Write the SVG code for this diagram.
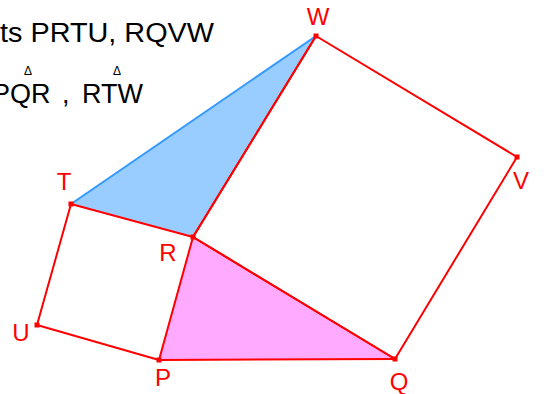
<svg xmlns="http://www.w3.org/2000/svg" width="546" height="394" viewBox="0 0 546 394">
<style>
.edge{stroke:#FF0000;stroke-width:2;fill:none;stroke-linecap:round;stroke-linejoin:round}
.lbl{font-family:"Liberation Sans",Arial,sans-serif;font-size:24px;fill:#FF0000;text-anchor:middle}
.txt{font-family:"Liberation Sans",Arial,sans-serif;font-size:27px;fill:#000000}
.delta{font-family:"Liberation Sans",Arial,sans-serif;font-size:12px;fill:#000000;text-anchor:middle}
.pt{fill:#FF0000}
</style>
<rect width="546" height="394" fill="#FFFFFF"/>
<g id="title">
<text class="txt" x="0" y="42" textLength="214" lengthAdjust="spacingAndGlyphs">ts PRTU, RQVW</text>
<text class="txt" x="-8" y="103">PQR</text>
<text class="txt" x="62" y="103">,</text>
<text class="txt" x="82" y="103">RTW</text>
<text class="delta" x="28" y="75">Δ</text>
<text class="delta" x="117" y="75">Δ</text>
</g>
<g id="triangle-RTW">
<polygon points="71,204 316,36 193,237" fill="#99CCFF" stroke="none"/>
<line x1="71" y1="204" x2="316" y2="36" stroke="#3399FF" stroke-width="2"/>
</g>
<g id="triangle-PQR">
<polygon points="159,360 395,359 193,237" fill="#FFAAFF" stroke="none"/>
</g>
<g id="connectors">
<polyline class="edge" points="159,360 193,237 71,204 37,325 159,360"/>
<polyline class="edge" points="193,237 395,359 517,157 316,36 193,237"/>
<line class="edge" x1="159" y1="360" x2="395" y2="359"/>
<line class="edge" x1="193" y1="237" x2="395" y2="359" stroke-width="3"/>
<line class="edge" x1="193" y1="237" x2="316" y2="36" stroke-width="2.5"/>
</g>
<g id="P"><rect class="pt" x="156.5" y="357.5" width="5" height="5"/><text class="lbl" x="163" y="386">P</text></g>
<g id="Q"><rect class="pt" x="392.5" y="356.5" width="5" height="5"/><text class="lbl" x="399" y="390">Q</text></g>
<g id="R"><rect class="pt" x="190.5" y="234.5" width="5" height="5"/><text class="lbl" x="168" y="261">R</text></g>
<g id="T"><rect class="pt" x="68.5" y="201.5" width="5" height="5"/><text class="lbl" x="64" y="190">T</text></g>
<g id="U"><rect class="pt" x="34.5" y="322.5" width="5" height="5"/><text class="lbl" x="21" y="341">U</text></g>
<g id="V"><rect class="pt" x="514.5" y="154.5" width="5" height="5"/><text class="lbl" x="521" y="189">V</text></g>
<g id="W"><rect class="pt" x="313.5" y="33.5" width="5" height="5"/><text class="lbl" x="318" y="25">W</text></g>
</svg>
